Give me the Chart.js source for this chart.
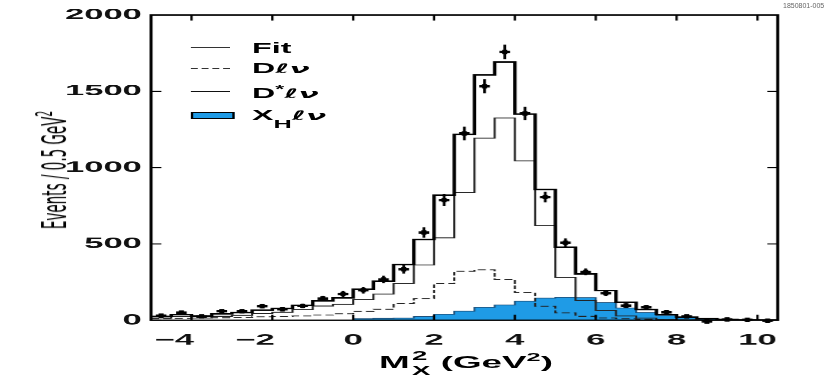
<!DOCTYPE html>
<html>
<head>
<meta charset="utf-8">
<script src="https://cdn.jsdelivr.net/npm/chart.js@4.4.0/dist/chart.umd.min.js"></script>
<style>
html, body { margin: 0; padding: 0; background: #fff; }
body { width: 830px; height: 382px; overflow: hidden; position: relative; font-family: "Liberation Sans", Arial, sans-serif; color: #000; }
/* the original figure is stretched sideways, so everything is drawn narrow and widened */
#stretch { position: absolute; left: 0; top: 0; width: 361px; height: 382px; transform: scaleX(2.3); transform-origin: 0 0; }
#box { position: absolute; left: 0; top: 0; width: 361px; height: 382px; }
.lt { position: absolute; left: 109.6px; font-weight: bold; font-size: 14px; line-height: 14px; white-space: nowrap; }
.lt i { font-family: "DejaVu Sans", sans-serif; font-style: oblique; font-weight: bold; font-size: 13px; }
.lt sup { font-size: 10px; vertical-align: 5px; line-height: 0; }
.lt sub { font-size: 11px; vertical-align: -8px; line-height: 0; }
.ls { position: absolute; left: 82.6px; width: 17.4px; height: 0; }
#ytitle { position: absolute; left: 23.5px; top: 170px; transform: translate(-50%, -50%) rotate(-90deg); font-family: "Liberation Sans Narrow", "DejaVu Sans Condensed", sans-serif; font-size: 15px; white-space: nowrap; line-height: 15px; }
#ytitle sup { font-size: 10px; vertical-align: 6px; line-height: 0; }
#xtitle { position: absolute; left: 202.6px; top: 364px; transform: translate(-50%, -50%); font-weight: bold; font-size: 16px; line-height: 16px; white-space: nowrap; }
#xtitle .ss { display: inline-flex; flex-direction: column; vertical-align: middle; font-size: 12px; line-height: 15px; margin-left: 1px; }
#xtitle sup { font-size: 11px; vertical-align: 7px; line-height: 0; }
#tag { position: absolute; left: 783px; top: 2px; font-size: 7px; color: #666; white-space: nowrap; }
</style>
</head>
<body>
<div id="stretch">
  <div id="box"><canvas id="graph"></canvas></div>

  <div class="ls" style="top:46.7px; border-top:1px solid #333;"></div>
  <div class="ls" style="top:68.3px; border-top:1px dashed #333;"></div>
  <div class="ls" style="top:91px; border-top:1px solid #111;"></div>
  <div class="ls" style="top:111.7px; height:5px; background:#1f9be6; border:1px solid #000;"></div>

  <div class="lt" style="top:40.7px">Fit</div>
  <div class="lt" style="top:61.2px">D<i>ℓν</i></div>
  <div class="lt" style="top:86.2px">D<sup>*</sup><i>ℓν</i></div>
  <div class="lt" style="top:108.2px">X<sub>H</sub><i>ℓν</i></div>

  <div id="ytitle">Events / 0.5 GeV<sup>2</sup></div>
  <div id="xtitle">M<span class="ss"><span>2</span><span>X</span></span> (GeV<sup>2</sup>)</div>
</div>
<div id="tag">1850801-005</div>

<script>
// bords des classes (GeV^2), 0.5 de large
var binEdges = [-5, -4.5, -4, -3.5, -3, -2.5, -2, -1.5, -1, -0.5, 0, 0.5, 1, 1.5, 2, 2.5, 3, 3.5, 4, 4.5, 5, 5.5, 6, 6.5, 7, 7.5, 8, 8.5, 9, 9.5, 10, 10.5];

// données (points avec barres d'erreur)
var dataVals = [30, 50, 25, 59, 59, 92, 72, 94, 142, 172, 197, 267, 334, 575, 787, 1224, 1533, 1758, 1355, 807, 508, 317, 177, 96, 85, 52, 25, -8, 5, 3, -3];
var dataErr = [10, 12, 10, 12, 12, 15, 14, 15, 18, 20, 22, 25, 28, 34, 40, 45, 46, 48, 44, 35, 28, 22, 18, 15, 14, 12, 10, 10, 8, 8, 8];

// composantes de l'ajustement
var fitVals = [25, 38, 28, 42, 50, 66, 77, 98, 127, 146, 203, 256, 365, 529, 820, 1218, 1608, 1692, 1351, 857, 478, 303, 195, 118, 70, 38, 20, 10, 5, 3, 2];
var dlnuVals = [10, 12, 14, 16, 18, 22, 25, 28, 34, 42, 58, 72, 109, 142, 240, 321, 330, 267, 182, 92, 48, 26, 15, 10, 6, 4, 2, 1, 0, 0, 0];
var dstarVals = [15, 26, 14, 26, 32, 44, 52, 70, 93, 104, 135, 172, 242, 362, 540, 837, 1193, 1325, 1044, 620, 280, 129, 64, 28, 14, 4, 2, 1, 1, 1, 1];
var xhVals = [0, 0, 0, 0, 0, 0, 0, 0, 0, 0, 10, 12, 14, 25, 40, 60, 85, 100, 125, 145, 150, 148, 116, 80, 50, 30, 16, 8, 4, 2, 1];

// axes
var xTicks = [-4, -2, 0, 2, 4, 6, 8, 10];
var yTicks = [0, 500, 1000, 1500, 2000];
var xMin = -5, xMax = 10.5, yMin = 0, yMax = 2000;
var binWidth = 0.5;

/* histogramme en marches : une valeur par bord gauche, plus le dernier bord */
function steps(vals) {
    return binEdges.map(function (e, i) {
        return { x: e, y: vals[Math.min(i, vals.length - 1)] };
    });
}

var dataPoints = dataVals.map(function (v, i) {
    return { x: binEdges[i] + binWidth / 2, y: v };
});

/* Cadre, graduations vers l'intérieur et croix des données */
var cadre = {
    id: 'cadre',
    afterDatasetsDraw: function (chart) {
        var ctx = chart.ctx;
        var a = chart.chartArea;
        var x = chart.scales.x, y = chart.scales.y;
        ctx.save();
        ctx.strokeStyle = '#000';
        ctx.fillStyle = '#000';

        // points de données
        dataPoints.forEach(function (p, i) {
            var px = x.getPixelForValue(p.x);
            var py = y.getPixelForValue(p.y);
            var e = Math.abs(y.getPixelForValue(p.y + dataErr[i]) - py);
            ctx.lineWidth = 1.2;
            ctx.beginPath();
            ctx.moveTo(px, py - e);
            ctx.lineTo(px, py + e);
            ctx.stroke();
            ctx.lineWidth = 2.4;
            ctx.beginPath();
            ctx.moveTo(px - 2.3, py);
            ctx.lineTo(px + 2.3, py);
            ctx.stroke();
            ctx.fillRect(px - 1.1, py - 2.2, 2.2, 4.4);
        });

        // cadre
        ctx.lineWidth = 1.3;
        ctx.strokeRect(a.left, a.top, a.right - a.left, a.bottom - a.top);

        // graduations
        ctx.lineWidth = 1;
        ctx.beginPath();
        xTicks.forEach(function (v) {
            var px = x.getPixelForValue(v);
            ctx.moveTo(px, a.bottom); ctx.lineTo(px, a.bottom - 5.5);
            ctx.moveTo(px, a.top); ctx.lineTo(px, a.top + 5.5);
        });
        yTicks.forEach(function (v) {
            var py = y.getPixelForValue(v);
            ctx.moveTo(a.left, py); ctx.lineTo(a.left + 4.5, py);
            ctx.moveTo(a.right, py); ctx.lineTo(a.right - 4.5, py);
        });
        ctx.stroke();
        ctx.restore();
    }
};

var tickFont = { family: 'Liberation Sans', weight: 'bold', size: 15 };

var ctx = document.getElementById('graph').getContext('2d');
var graphique = new Chart(ctx, {
    type: 'scatter',
    data: {
        datasets: [{
            label: 'Data',
            data: dataPoints,
            pointRadius: 0,
            showLine: false
        }, {
            label: 'Fit',
            type: 'line',
            data: steps(fitVals),
            stepped: 'before',
            borderColor: '#000',
            borderWidth: 1.5,
            pointRadius: 0,
            fill: false
        }, {
            label: 'D*lv',
            type: 'line',
            data: steps(dstarVals),
            stepped: 'before',
            borderColor: '#222',
            borderWidth: 0.9,
            pointRadius: 0,
            fill: false
        }, {
            label: 'Dlv',
            type: 'line',
            data: steps(dlnuVals),
            stepped: 'before',
            borderColor: '#222',
            borderWidth: 0.9,
            borderDash: [3.5, 1.8],
            pointRadius: 0,
            fill: false
        }, {
            label: 'XHlv',
            type: 'line',
            data: steps(xhVals),
            stepped: 'before',
            borderColor: '#1b4f7a',
            borderWidth: 0.8,
            backgroundColor: '#1f9be6',
            pointRadius: 0,
            fill: 'origin'
        }]
    },
    options: {
        responsive: true,
        maintainAspectRatio: false,
        animation: false,
        devicePixelRatio: 2.3,
        layout: { padding: { top: 15, right: 23, left: 0, bottom: 0 } },
        plugins: {
            legend: { display: false },
            tooltip: { enabled: false }
        },
        scales: {
            x: {
                type: 'linear',
                min: xMin,
                max: xMax,
                grid: { display: false, drawTicks: false },
                border: { display: false },
                afterBuildTicks: function (scale) {
                    scale.ticks = xTicks.map(function (v) { return { value: v }; });
                },
                afterFit: function (scale) { scale.height = 62; },
                ticks: {
                    color: '#111',
                    font: tickFont,
                    padding: 11,
                    maxRotation: 0,
                    // le signe moins déborde à gauche, comme sur l'original
                    callback: function (v) { return v < 0 ? '\u2212' + Math.abs(v) + '\u2002\u2002' : String(v); }
                }
            },
            y: {
                min: yMin,
                max: yMax,
                grid: { display: false, drawTicks: false },
                border: { display: false },
                afterBuildTicks: function (scale) {
                    scale.ticks = yTicks.map(function (v) { return { value: v }; });
                },
                afterFit: function (scale) { scale.width = 65.65; },
                ticks: {
                    color: '#111',
                    font: tickFont,
                    padding: 4,
                    callback: function (v) { return String(v); }
                }
            }
        }
    },
    plugins: [cadre]
});
</script>
</body>
</html>
